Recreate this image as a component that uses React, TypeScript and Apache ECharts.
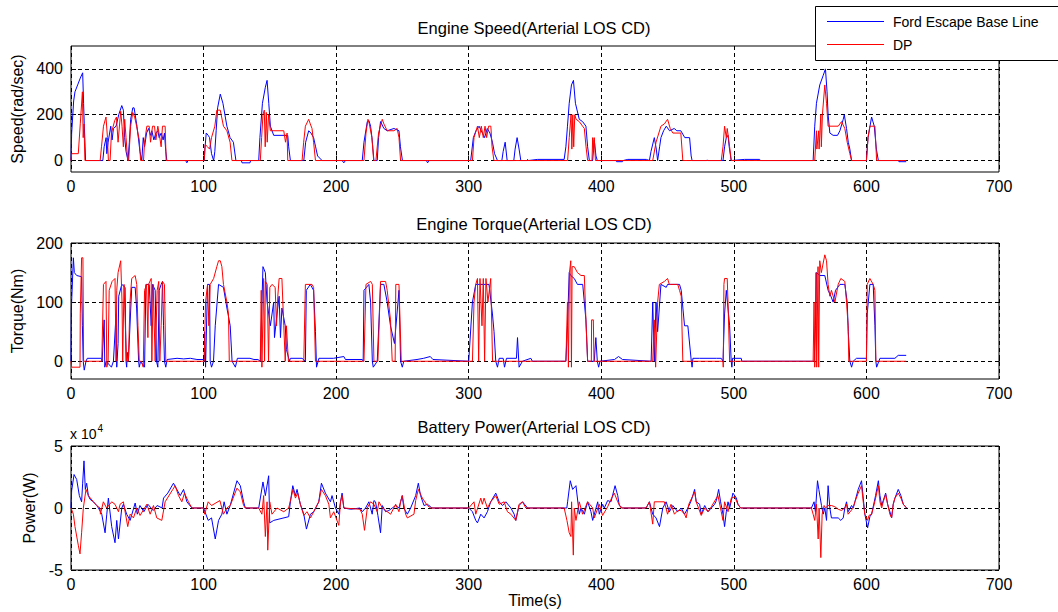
import React, { useEffect, useRef } from "react";
import * as echarts from "echarts";

// ---------- data ----------
const seriesNames = ["Ford Escape Base Line", "DP"];
const plotTitles = [
  "Engine Speed(Arterial LOS CD)",
  "Engine Torque(Arterial LOS CD)",
  "Battery Power(Arterial LOS CD)",
];
const yAxisNames = ["Speed(rad/sec)", "Torque(Nm)", "Power(W)"];
const xAxisName = "Time(s)";
const speedTicks = [0, 200, 400];
const torqueTicks = [0, 100, 200];
const powerExponentLabel = "x 10";
const powerExponent = "4";

// time (s), speed (rad/sec)
const speedBase: number[][] = [
  [0, 0], [0.5, 120], [2, 260], [3, 300], [5, 330], [7, 360], [8.8, 383], [9.5, 250], [10, 160], [11, 0],
  [24, 0], [25, 60], [26.5, 100], [27, 30], [28, 80], [30, 150], [31, 90], [32, 140], [34, 150], [36, 200],
  [38.3, 240], [39.5, 220], [40.5, 100], [41.5, 40], [43, 0], [44, 80], [45, 180], [46.6, 230], [47.6, 230],
  [49.5, 160], [51, 90], [52, 40], [53.4, 0], [54.5, 100], [55.5, 60], [57, 120], [58.5, 140], [60, 110],
  [61, 130], [62.5, 90], [64, 120], [65.5, 130], [66.5, 100], [68, 120], [69.5, 90], [70.5, 120], [71.5, 40],
  [72.3, 0], [86.5, 0], [87.4, -10], [88.2, 0], [100.5, 0], [101, 50], [102, 120], [103.5, 110], [104.5, 100],
  [106, 30], [107.6, 0], [108.5, 40], [109.5, 130], [110.6, 230], [112.6, 290], [114.6, 250], [117.6, 150],
  [120, 100], [122.5, 80], [124.4, 0], [128.5, 0], [129, -10], [135, -10], [135.5, 0], [141.6, 0], [142.5, 100],
  [144.4, 250], [146.6, 320], [147.9, 350], [149.2, 250], [150.4, 150], [152.9, 110], [163.5, 110], [164.2, 60],
  [165.5, 0], [175.6, 0], [177, 80], [179.3, 130], [181, 120], [183, 100], [184.5, 60], [186, 20], [189.4, 0],
  [204.5, 0], [205.8, -10], [207, 0], [219.7, 0], [221, 80], [223.5, 170], [224.7, 175], [226, 150], [227, 100],
  [228.5, 0], [231, 0], [232, 100], [233.5, 170], [236, 140], [238.5, 130], [243.6, 140], [247.4, 130],
  [248.5, 60], [250, 0], [268, 0], [269, -10], [270, 0], [301.5, 0], [303.5, 100], [305.5, 130], [307.8, 150],
  [310.3, 120], [312, 100], [314, 140], [316, 120], [317.9, 80], [319.5, 30], [321.7, 0], [325, 0], [326, 40],
  [327.5, 80], [329, 0], [334, 0], [335, 50], [336.5, 100], [338, 50], [339.3, 0], [344, 0], [344.4, 5], [345, 0],
  [352, 5], [372, 5], [373.3, 60], [374.5, 150], [375.8, 250], [377.5, 330], [379, 350], [380.5, 250],
  [383.4, 180], [385.9, 170], [388.4, 150], [389.7, 60], [391, 0], [393.5, 0], [394.7, 90], [396, 20], [397, 0],
  [411, 0], [411.5, -5], [416, -5], [416.5, 0], [420, 5], [434, 5], [436.3, 0], [437.5, 40], [440, 100],
  [441.5, 50], [442.5, 0], [444, 60], [445, 100], [447, 130], [449, 150], [451.5, 130], [455, 140], [457, 130],
  [460, 130], [463, 100], [466.6, 100], [467.8, 20], [468.5, 0], [479.5, 0], [480, 3], [480.5, 0], [491.8, 0],
  [493, 60], [494.3, 100], [495.6, 110], [496.5, 60], [498, 0], [508, 5], [519.5, 5], [520, 0], [559.8, 0],
  [561, 150], [562.3, 250], [564.8, 330], [567.3, 370], [569.1, 400], [570.3, 300], [571.1, 200], [572.4, 120],
  [574.9, 110], [578.2, 110], [580, 130], [582.5, 180], [583.3, 200], [585, 140], [586.3, 80], [587.5, 50],
  [588.8, 0], [600, 0], [601.2, 100], [603.9, 190], [605.9, 150], [607.5, 50], [609, 0], [624, 0], [624.5, -5],
  [630, -5],
];

const speedDP: number[][] = [
  [0, 0], [0.5, 30], [5.5, 30], [7, 160], [8.6, 300], [9.2, 100], [9.8, 160], [10.5, 0], [22, 0], [23, 60],
  [24.5, 150], [26.4, 190], [27.5, 100], [28.2, 0], [29.5, 0], [30.5, 120], [33, 175], [34.3, 190], [35.5, 80],
  [37.5, 215], [38.5, 150], [39.5, 60], [40.5, 180], [41.5, 100], [42.8, 0], [43.5, 0], [45, 150], [46.6, 210],
  [48, 190], [49.5, 150], [51.5, 90], [52.5, 0], [54.7, 0], [55.5, 80], [57.2, 150], [59, 150], [60, 80],
  [61.5, 150], [63, 150], [64, 90], [65.5, 150], [67, 100], [68, 60], [69, 150], [71, 150], [71.8, 0],
  [100.5, 0], [101.2, 70], [103, 60], [104.5, 50], [106, 100], [108.5, 150], [110, 220], [112.6, 220],
  [115, 150], [117.6, 130], [120, 80], [121.4, 0], [142.8, 0], [143.8, 100], [144.8, 200], [145.8, 220],
  [146.5, 60], [147.3, 210], [148, 80], [149, 200], [150.4, 130], [151.6, 130], [160.5, 130], [161.8, 80],
  [163, 120], [163.5, 0], [174.3, 0], [175.5, 80], [176.8, 150], [179.3, 180], [180.5, 160], [181.8, 140],
  [183, 80], [184.4, 0], [221, 0], [222.5, 120], [224, 180], [225, 160], [227, 100], [228.3, 0], [230, 0],
  [232, 120], [234.8, 180], [236, 160], [238.5, 130], [243.6, 130], [246, 140], [247.4, 100], [248.6, 0],
  [302.8, 0], [304, 100], [306.6, 150], [308, 100], [309.5, 150], [311, 100], [312.3, 150], [313.5, 100],
  [315, 150], [316.7, 150], [317.6, 60], [319, 0], [374.6, 0], [375.8, 100], [377.2, 200], [377.8, 50],
  [378.5, 200], [379.2, 60], [380, 200], [381, 180], [383.4, 170], [385.9, 150], [387.2, 140], [388.5, 60],
  [389.7, 0], [393, 0], [393.5, 100], [394, 40], [394.7, 100], [395.6, 0], [438.8, 0], [441.3, 80], [445, 150],
  [447.6, 160], [450, 180], [452, 140], [454, 120], [460, 120], [461.5, 0], [490.5, 0], [491.8, 60], [493, 150],
  [494.3, 100], [495, 140], [496.8, 60], [498, 0], [561, 0], [562.3, 130], [562.6, 50], [564, 130], [564.3, 50],
  [565.6, 200], [566, 60], [566.8, 200], [568.6, 330], [569.9, 250], [571.1, 150], [572.4, 150], [578.7, 150],
  [581.2, 170], [583.7, 140], [585.5, 80], [587.5, 30], [588.8, 0], [600, 0], [601.2, 100], [602.6, 150],
  [606.4, 150], [607.7, 0], [630, 0],
];

// time (s), torque (Nm)
const torqueBase: number[][] = [
  [0, 0], [0.3, 90], [1.8, 175], [2.5, 150], [4.3, 145], [8, 143], [8.6, 60], [9.2, 0], [10, -15], [11.3, 0],
  [12.3, 5], [23, 5], [23.5, 0], [25, 70], [25.5, -10], [26.5, 0], [30.5, -10], [32, 0], [34, 80], [34.5, -10],
  [35.5, 30], [36, 110], [38.3, 130], [40.8, 125], [41.5, 0], [42, -10], [42.5, 15], [43.3, 0], [45.8, 125],
  [48.4, 125], [49.5, 90], [51, 0], [51.5, -10], [52.5, 0], [55.5, -10], [56.5, 130], [59, 130], [60.5, 60],
  [61.5, 130], [63.5, 120], [64.5, 0], [65.5, -10], [66.5, 120], [68, 130], [69, 135], [69.8, 60], [70.5, 0],
  [71.5, -10], [72.5, 3], [80, 5], [85, 4], [90, 5], [95, 3], [100, 3], [100.5, 0], [100.8, 50], [101.5, -10],
  [103, 130], [104.5, 130], [105, 0], [106, -10], [107.5, 0], [108.8, 60], [111.3, 130], [115, 125],
  [117.6, 90], [120.1, 60], [121.5, 0], [124, -10], [125.5, 5], [135, 5], [138, 3], [141, 3], [142.8, 0],
  [144.8, 160], [146.6, 150], [147.9, 100], [150.4, 60], [152.9, 100], [153.5, 40], [155.4, 80], [157, 110],
  [158, 40], [159.1, 90], [161.6, 60], [162.5, 20], [164.8, 0], [165.5, 5], [174.3, 5], [176.8, 0], [177.5, 120],
  [180.5, 130], [183, 120], [184.4, 50], [185.2, -10], [187, 5], [198, 5], [205.8, 8], [207, 3], [219.7, 3],
  [220.4, 0], [221, 120], [224.7, 130], [226, 100], [227.3, 0], [228, -10], [231, 0], [233.5, 130], [236, 130],
  [238.5, 100], [241, 60], [244, 30], [247.4, 120], [248.6, 0], [249.9, -10], [251, 0], [261, 3], [266, 5],
  [271, 8], [273, 3], [300, 0], [302.8, 100], [305.3, 130], [315.3, 130], [317.9, 80], [319.1, 50], [320.4, 0],
  [321.7, -10], [323, 5], [326, 5], [327, -10], [328.5, 5], [336, 5], [336.8, 40], [338, -10], [340.5, 0],
  [346.9, 5], [348, 0], [373.3, 0], [374.5, 60], [375.8, 150], [377, 145], [379.6, 140], [382, 130], [386, 130],
  [388.4, 70], [389.7, 0], [394.7, 0], [395.9, 40], [397, 0], [398, -10], [399, 0], [410, 3], [413, 8], [416, 3],
  [437.6, 0], [438.8, 100], [440, 0], [441.3, 100], [442.5, 50], [445, 130], [449, 125], [450, 130], [459, 130],
  [460.3, 120], [462.8, 60], [465.3, 60], [467.9, 0], [468.5, -10], [469.1, 5], [474.2, 5], [486.8, 5],
  [490.5, 5], [491.8, 0], [493, 80], [494.3, 120], [496.8, 60], [498, 0], [498.5, -10], [499, 5], [505.6, 5],
  [506, 0], [560.6, 0], [561.5, 60], [562.3, 150], [564.8, 145], [568.6, 145], [571.1, 120], [573.2, 110],
  [574.9, 100], [576.7, 120], [580, 130], [582.5, 130], [583.7, 130], [585.5, 100], [586.3, 50], [587.5, 0],
  [588.8, -10], [590, 0], [592.5, 5], [600, 5], [600.6, 80], [602.6, 130], [605.1, 130], [606.4, 60],
  [607.1, 0], [607.7, -10], [610.2, 5], [621.5, 5], [624, 10], [630, 10],
];

const torqueDP: number[][] = [
  [0, 0], [0.5, -10], [6.8, -10], [7, 80], [8, 175], [9, 175], [9.5, 0], [23.2, 0], [24.5, 130], [26.4, 135],
  [27, -10], [28, 0], [28.8, 120], [31, 135], [33.2, 140], [34, 0], [34.5, 120], [35.5, 150], [37.5, 170],
  [38.5, 100], [39, 0], [40, 130], [41.3, 40], [42, 0], [43.3, 0], [44.5, 100], [45.8, 140], [48.4, 145],
  [49.6, 130], [50.5, 60], [51.5, 0], [53, 0], [54.5, -10], [55.5, 120], [57, 130], [58, 40], [58.5, 130],
  [60.5, 140], [61, 0], [62, 130], [63.5, 0], [65, 120], [66.2, 135], [67, 0], [68, 60], [69, 135], [70.5, 130],
  [71.5, 0], [100.5, 0], [101.5, 100], [103, 130], [104, 60], [105, 130], [107.6, 140], [110, 160], [111.3, 170],
  [112.6, 170], [113.8, 160], [115, 130], [117.6, 100], [118.8, 80], [119.4, 0], [142.8, 0], [143.5, 120],
  [144, -10], [145.3, 140], [146, 0], [146.6, 135], [148, 130], [149, 0], [150, 125], [151.6, 130], [154, 125],
  [155, 60], [156, 110], [157, 140], [159.1, 140], [160.5, 60], [161.6, 0], [162.5, 60], [164, 0], [175.6, 0],
  [176.8, 130], [181.8, 130], [183, 125], [184.4, 0], [221, 0], [222.5, 130], [226, 135], [227.3, 130],
  [228.5, 0], [231.5, 0], [233.5, 135], [237.3, 135], [238.5, 120], [241, 70], [242.3, 0], [244.5, 0],
  [245, 130], [247.4, 130], [249.1, 0], [302.8, 0], [304, 100], [305.3, 130], [306.6, 140], [307.5, 0],
  [308.5, 140], [310, 60], [311, 140], [312, 0], [313, 140], [314.5, 100], [316.6, 140], [318, 0], [373.3, 0],
  [374.5, 100], [375.2, -10], [376, 150], [377, 170], [377.5, -10], [378, 160], [379.6, 160], [382, 150],
  [384.7, 145], [387.2, 145], [388.4, 70], [389.7, 0], [392.5, 0], [392.7, 70], [394, 70], [394.5, 0],
  [438.8, 0], [440, 70], [441, -10], [442.5, 100], [443.8, 130], [447.6, 135], [450, 140], [451.3, 130],
  [457.7, 130], [459, 120], [460.3, 110], [461.5, 0], [491.8, 0], [492, -10], [492.5, 130], [493, 140],
  [495, 140], [495.6, 100], [496.8, 0], [559.8, 0], [560.5, 100], [561, -10], [562, 150], [562.5, -10],
  [563.5, 160], [564, -10], [564.8, 170], [566, 150], [568.6, 180], [569.9, 170], [571.1, 130], [572.4, 110],
  [573.6, 120], [576.2, 100], [578.7, 130], [580.7, 140], [583.7, 135], [585, 100], [586.2, 60], [586.7, 0],
  [600, 0], [600.6, 130], [602.6, 140], [605.1, 130], [606.4, 120], [607.1, 0], [630, 0],
];

// time (s), battery power (x 10^4 W)
const powerBase: number[][] = [
  [0, 0], [0.5, 1.4], [2.3, 2.7], [4.3, 2.3], [6.3, 1.0], [8, 0.5], [8.8, 2.0], [9.8, 3.8], [10.8, 1.5],
  [11.8, 2.0], [13.1, 1.0], [14.4, 0.7], [16.9, 0.5], [19.4, 0.2], [20.7, 0], [23.2, -0.5], [25.7, -2.0],
  [27, -0.5], [28.2, 0.8], [30.7, -1.5], [33.2, -2.8], [34.5, -1.0], [35.8, -2.5], [38.3, 0], [39.5, 0.3],
  [42, -0.5], [44.6, -1.0], [48.4, 0.4], [50, -0.5], [52, 0.2], [55, -0.3], [58, 0.3], [62, -0.2], [65, 0.2],
  [68.7, 0], [69.8, 0.8], [73, 1.2], [77.3, 2.0], [79.8, 1.5], [82.4, 1.0], [84.9, 1.5], [87.4, 0.5], [91.2, 0],
  [100, 0], [101, -0.3], [103.5, -1.0], [106, -0.8], [108.8, -2.5], [111.3, -1.0], [113.8, -0.5], [115.5, 0.5],
  [117.6, -0.5], [120.1, 0.2], [125.2, 2.2], [127.7, 1.8], [130.2, 0.5], [131.5, 0], [141.6, 0], [144.8, 2.1],
  [146.6, 1.0], [149.1, 2.6], [149.9, -1.2], [152.9, -1.0], [164.2, -0.7], [165.5, 0.5], [167.3, 1.8],
  [169.3, 1.0], [170.5, 1.5], [173, 0.3], [175.6, -0.5], [177.6, -1.7], [180.6, -0.5], [183.1, -0.3],
  [186.9, 0.5], [188.9, 2.0], [191.9, 1.2], [195.7, 0.5], [196.9, 1.0], [199.5, 0], [202, -0.5], [203.3, 0.5],
  [204.5, 1.2], [205.8, 0], [211, -0.1], [218, 0], [219.7, -0.3], [222.2, 0], [224.7, 0.5], [227.2, -0.5],
  [228.5, 0.6], [229.7, 0.5], [231.5, -0.6], [233.5, -2.0], [234.8, 0.2], [237.3, -0.3], [239.8, -0.2],
  [242.3, 0], [244.9, 0.2], [247.4, 0], [248.6, 0.5], [249.9, 1.0], [251, 0], [253.7, -0.5], [256.2, 0],
  [260, 1.0], [262, 2.0], [263.7, 1.0], [266.3, 0.2], [268.8, 0.3], [271.3, 0.1], [272, 0], [300, 0],
  [302.8, -0.3], [305.3, -1.0], [306.6, -1.2], [309.1, -0.5], [311.6, -0.8], [314.1, -0.3], [316.6, 0.5],
  [320.4, 1.2], [323, 0.5], [325.5, 0.2], [328, 0.5], [331.8, 0], [334.3, -0.5], [335.5, -1.0], [338, 0.2],
  [340.6, 0.5], [344.4, 0], [374, 0], [374.6, 0.5], [376.6, 2.2], [378.4, 1.5], [380.9, 1.8], [383.4, -0.5],
  [384.7, 0], [387.2, -0.5], [389.7, 0.5], [392.2, -0.3], [393.5, -1.0], [397.3, 0.5], [398.5, -0.5],
  [401, 0.3], [402.3, 0], [404.8, 0.6], [407.3, 0.5], [410.4, 1.8], [412.4, 1.0], [413.6, 0.2], [416.1, 0],
  [433.8, 0], [436.3, 0.5], [438.8, -0.5], [441.3, -0.8], [443.9, -1.5], [446.4, 0], [448.9, 0.5],
  [451.4, -0.3], [453.9, 0.2], [457.7, -0.3], [460.3, 0], [462.8, -0.5], [465.3, 0], [467.9, 0.6],
  [470.4, 1.5], [471.6, 0.5], [474.2, 0.3], [475.4, -0.5], [478, 0.2], [480.5, -0.3], [483, 0], [485.5, 0.3],
  [486.8, 0.6], [488.5, 1.5], [490, 0.5], [491.8, -0.5], [493, -1.5], [494.3, -0.3], [495.6, 0.5], [496.8, 0],
  [498.1, 0.6], [499.3, 1.2], [501.9, 0.8], [503.1, 0.3], [505.1, 0], [558.5, 0], [560.5, 0.5], [561.5, -0.3],
  [563.1, 2.2], [564.1, 1.5], [566.1, 0.2], [567.4, -0.5], [568.6, 0], [569.9, -1.0], [571.1, 1.8], [572.4, 0],
  [573.6, -0.8], [578.7, -0.8], [580.7, -1.0], [582.5, -0.8], [583.7, 0], [585, 0.5], [586.2, -0.3],
  [588.8, 0.2], [590, 0], [591.3, 0.5], [593.8, 1.5], [596.3, 2.2], [597.6, 0.8], [598.8, -0.5], [600.9, -1.6],
  [602.6, -0.7], [603.9, -0.5], [605.9, 0.5], [606.9, 1.0], [609, 2.2], [610.2, 1.0], [611.5, 0.2],
  [612.7, 0.6], [614.5, 1.2], [616, 0.3], [617.7, -0.3], [619, -0.8], [620.2, 0.3], [621.5, 0.8], [624, 1.5],
  [626, 1.0], [627.8, 0.3], [630.3, 0],
];

const powerDP: number[][] = [
  [0, 0], [1.8, -0.5], [3, -1.5], [5.5, -3.0], [6.8, -3.7], [8, -2.0], [9.3, 0], [11.3, 1.5], [13.1, 1.0],
  [16.9, 0.5], [19.4, 0.2], [21.9, 0], [22.2, -0.5], [24.4, 0.5], [26.9, 0], [30.7, 0.5], [33.2, 0.3],
  [35.8, -0.3], [37, 0.3], [39.5, 0.5], [42.8, -1.5], [44.6, -0.5], [47.1, -0.8], [49.6, 0], [52.1, -0.6],
  [57.2, 0.3], [59.7, -0.5], [62.2, 0.2], [64.7, -0.8], [68.5, -1.0], [71, 0.5], [76.8, 1.5], [78.6, 1.8],
  [81.1, 1.0], [83.6, 0.5], [85.6, 1.2], [88.6, 0.5], [91.2, 0], [100, 0], [100.8, -0.5], [103.5, 0.5],
  [106, 0.2], [112.3, 0.6], [115, -0.5], [117.6, 0], [120.1, 0.2], [125.2, 1.6], [127.7, 1.3], [130.2, 0.2],
  [131.5, 0], [141.6, 0], [144, -0.5], [145.3, 1.0], [146.6, -2.3], [147.9, 0.5], [148.4, -3.4], [149.9, 0.5],
  [151.6, -0.5], [155.4, 0], [160.5, -0.3], [164.2, 0], [167.5, 1.5], [169.3, 0.8], [171, 1.2], [173, 0.3],
  [175.6, -0.6], [178, -0.3], [180.6, -0.8], [183.1, -0.3], [186.9, 0.5], [188.9, 1.5], [191.9, 1.0],
  [194.5, 0.3], [195.7, -0.8], [198.2, -0.3], [202, -1.4], [203.3, 0.5], [204.5, 1.0], [205.8, 0],
  [218, -0.1], [219.7, -0.5], [221.4, -1.8], [223.5, 0], [226, 0.5], [228.5, 0.3], [231, -0.3], [232.3, 0.5],
  [234.8, 0], [241.1, -0.5], [244.9, 0.3], [247.4, -0.3], [248.6, 0.5], [249.9, 1.0], [252.4, -0.5],
  [253.7, -0.8], [258.7, -0.5], [260, 0.6], [262, 1.5], [265, 0.8], [268.8, 0.2], [271.3, 0], [300, 0],
  [304, 0.5], [305.3, -0.5], [309.1, 0.8], [310.3, 0.3], [311.6, 0.8], [314.1, 0], [316.6, 0.5], [320.4, 1.0],
  [323, 0.3], [326.7, 0.5], [329.2, -0.3], [331.8, -0.5], [335.5, -1.0], [338, 0.3], [340.6, 0.5], [343.1, 0],
  [372, 0], [374.1, -1.0], [375.8, -2.0], [377.1, -2.3], [377.6, 0.5], [378.9, -3.8], [379.6, 0],
  [380.9, -1.0], [383.4, 0.5], [385.9, -0.5], [389.7, 0.5], [393.5, 0], [394.7, -0.8], [398.5, 0.3],
  [401, -0.6], [404.8, 0.1], [407.3, 0.7], [409.8, 1.2], [412.4, 0.5], [414.9, 0], [433.8, 0], [436.3, 0.5],
  [438.8, -1.3], [440, 0.5], [447.6, 0.5], [450, -0.5], [452.6, 0.3], [455.2, -0.5], [457.7, -0.2],
  [460.3, -0.2], [462.8, -0.5], [464, -0.8], [466, 0.3], [470.4, 1.3], [471.6, 0.5], [475.4, -0.6], [478, 0],
  [480.5, -0.3], [483, 0.1], [488, 1.0], [490.5, -0.3], [491.8, -1.0], [493, 0.5], [495.6, -0.3], [498.1, 0.8],
  [500.6, 0.9], [503.1, 0.3], [505.1, 0], [558.5, 0], [559.8, -0.5], [561, -1.0], [562.3, 0.3], [563.6, -2.5],
  [564.3, 0], [565.6, -4.0], [566.6, -0.5], [568.1, 0.2], [569.1, 0], [571.1, 0.2], [573.6, 0.2], [576.2, 0.1],
  [578.7, -0.1], [581.2, -0.2], [583.7, 0], [585, 0.3], [586.2, -0.5], [590, 0], [591.3, 0.5], [593.8, 1.2],
  [596.3, 1.8], [597.6, 0.5], [598.8, -0.5], [600.9, -1.0], [601.9, -0.6], [603.9, -0.5], [605.9, 0.3],
  [609, 1.8], [610.2, 0.5], [611.5, 0], [612.7, 0.5], [614.5, 1.1], [616, 0.3], [617.7, -0.5], [619, -0.8],
  [620.2, 0.3], [621.5, 0.8], [624, 1.2], [626, 0.8], [627.8, 0.3], [630.3, 0],
];

// ---------- chart ----------
const FONT = "'Liberation Sans', Arial, Helvetica, sans-serif";
const BLUE = "#0000ff";
const RED = "#ff0000";
const INK = "#000000";

export default function App() {
  const ref = useRef<HTMLDivElement>(null);

  useEffect(() => {
    if (!ref.current) return;
    const chart = echarts.init(ref.current, undefined, { renderer: "svg" });

    const grids = [
      { left: 71, top: 46, width: 928, height: 126 },
      { left: 71, top: 243, width: 928, height: 136 },
      { left: 71, top: 446, width: 928, height: 124 },
    ];
    const splitStyle = { show: true, lineStyle: { color: INK, type: [4, 3] as any, width: 1 } };
    const labelStyle = { color: INK, fontSize: 16, fontFamily: FONT };
    const nameStyle = { color: INK, fontSize: 16, fontFamily: FONT };

    const xAxes = grids.map((_, i) => ({
      type: "value",
      gridIndex: i,
      min: 0,
      max: 700,
      interval: 100,
      axisLine: { show: false },
      axisTick: { show: true, inside: true, length: 5, lineStyle: { color: INK } },
      splitLine: splitStyle,
      axisLabel: { ...labelStyle, margin: 6 },
      ...(i === 2
        ? { name: xAxisName, nameLocation: "middle", nameGap: 20, nameTextStyle: nameStyle }
        : {}),
    }));

    const yCommon = {
      type: "value",
      axisLine: { show: false },
      splitLine: splitStyle,
      nameLocation: "middle",
      nameTextStyle: nameStyle,
    };
    const yAxes = [
      {
        ...yCommon,
        gridIndex: 0,
        min: -50,
        max: 500,
        name: yAxisNames[0],
        nameGap: 44,
        axisTick: { show: true, inside: true, length: 5, lineStyle: { color: INK }, customValues: speedTicks },
        axisLabel: { ...labelStyle, margin: 8, customValues: speedTicks },
      },
      {
        ...yCommon,
        gridIndex: 1,
        min: -30,
        max: 200,
        name: yAxisNames[1],
        nameGap: 44,
        axisTick: { show: true, inside: true, length: 5, lineStyle: { color: INK }, customValues: torqueTicks },
        axisLabel: { ...labelStyle, margin: 8, customValues: torqueTicks },
      },
      {
        ...yCommon,
        gridIndex: 2,
        min: -5,
        max: 5,
        interval: 5,
        name: yAxisNames[2],
        nameGap: 32,
        axisTick: { show: true, inside: true, length: 5, lineStyle: { color: INK } },
        axisLabel: { ...labelStyle, margin: 8 },
      },
    ];

    const mk = (name: string, data: number[][], idx: number, color: string, z: number) => ({
      type: "line",
      name,
      data,
      xAxisIndex: idx,
      yAxisIndex: idx,
      showSymbol: false,
      symbol: "none",
      color,
      lineStyle: { color, width: 1 },
      z,
      silent: true,
      clip: true,
    });

    const series = [
      mk(seriesNames[0], speedBase, 0, BLUE, 2),
      mk(seriesNames[1], speedDP, 0, RED, 3),
      mk(seriesNames[0], torqueBase, 1, BLUE, 2),
      mk(seriesNames[1], torqueDP, 1, RED, 3),
      mk(seriesNames[0], powerBase, 2, BLUE, 2),
      mk(seriesNames[1], powerDP, 2, RED, 3),
    ];

    const titleY = [28, 224, 427];
    const graphics: any[] = plotTitles.map((t, i) => ({
      type: "text",
      x: 534,
      y: titleY[i],
      style: {
        text: t,
        fill: INK,
        font: `16.5px ${FONT}`,
        align: "center",
        verticalAlign: "middle",
      },
    }));
    graphics.push({
      type: "text",
      x: 70,
      y: 432,
      style: {
        text: `{b|${powerExponentLabel}}{s|${powerExponent}}`,
        fill: INK,
        align: "left",
        verticalAlign: "middle",
        rich: {
          b: { fontSize: 14, fontFamily: FONT, fill: INK, verticalAlign: "bottom" },
          s: { fontSize: 10, fontFamily: FONT, fill: INK, verticalAlign: "top", padding: [0, 0, 8, 1] },
        },
      },
    });
    // legend box
    graphics.push({
      type: "group",
      z: 50,
      children: [
        {
          type: "rect",
          shape: { x: 815.5, y: 6.5, width: 300, height: 54 },
          style: { fill: "#ffffff", stroke: INK, lineWidth: 1 },
          z: 50,
        },
        {
          type: "line",
          shape: { x1: 827, y1: 21.5, x2: 884, y2: 21.5 },
          style: { stroke: BLUE, lineWidth: 1 },
          z: 51,
        },
        {
          type: "text",
          x: 893,
          y: 21.5,
          style: { text: seriesNames[0], fill: INK, font: `14px ${FONT}`, verticalAlign: "middle" },
          z: 51,
        },
        {
          type: "line",
          shape: { x1: 827, y1: 44.5, x2: 884, y2: 44.5 },
          style: { stroke: RED, lineWidth: 1 },
          z: 51,
        },
        {
          type: "text",
          x: 893,
          y: 44.5,
          style: { text: seriesNames[1], fill: INK, font: `14px ${FONT}`, verticalAlign: "middle" },
          z: 51,
        },
      ],
    });

    chart.setOption({
      animation: false,
      backgroundColor: "#ffffff",
      textStyle: { fontFamily: FONT },
      grid: grids.map((g) => ({
        ...g,
        show: true,
        borderColor: INK,
        borderWidth: 1,
        backgroundColor: "#ffffff",
        containLabel: false,
      })),
      xAxis: xAxes,
      yAxis: yAxes,
      series,
      graphic: graphics,
    } as any);

    return () => chart.dispose();
  }, []);

  return (
    <div
      ref={ref}
      style={{ position: "fixed", left: 0, top: 0, width: 1058, height: 612, background: "#fff" }}
    />
  );
}
